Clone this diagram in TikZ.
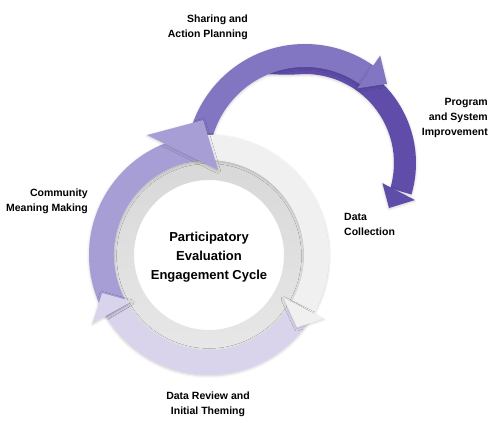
\documentclass[tikz,border=0pt]{standalone}
\usepackage{fontspec}
\setmainfont{Liberation Sans}
\usepackage{tikz}
\usetikzlibrary{shadows.blur}
\definecolor{darkpurple}{HTML}{5F4DA9}
\definecolor{midpurple}{HTML}{8275C2}
\definecolor{lightpurple}{HTML}{A79ED6}
\definecolor{lavender}{HTML}{D9D4EC}
\definecolor{paleband}{HTML}{F0F0F0}
\definecolor{ringtop}{HTML}{D8D8D8}
\definecolor{ringbot}{HTML}{E7E7E7}
\tikzset{
  softshadow/.style={blur shadow={shadow blur steps=6, shadow xshift=0pt, shadow yshift=-1pt, shadow opacity=18, shadow blur radius=2.5pt}},
  steplabel/.style={font=\bfseries\fontsize{10.5}{15}\selectfont, inner sep=0pt},
  centerlabel/.style={font=\bfseries\fontsize{13}{19}\selectfont, align=center, inner sep=0pt}
}

\begin{document}
\begin{tikzpicture}[x=1pt,y=1pt]
\useasboundingbox (0,0) rectangle (500,429);
% upper arrow
\begin{scope}[shift={(305,266)}]
\fill[darkpurple, softshadow] (112:111pt) arc[start angle=112, end angle=-16.5, radius=111pt] -- (-16.5:89pt) arc[start angle=-16.5, end angle=90, radius=89pt]
  .. controls (102:90pt) .. (112:96pt) -- cycle;
\fill[darkpurple, softshadow] (-14.6:80pt) -- (-18.6:116pt) -- (-28.2:95.3pt) -- cycle;
\fill[midpurple, softshadow] (180:119pt) arc[start angle=180, end angle=55, radius=119pt] -- (55:96pt) arc[start angle=55, end angle=180, radius=96pt] -- cycle;
\fill[midpurple, softshadow] (55:91pt) -- (55:131pt) -- (44:114pt) -- cycle;
\end{scope}
% cycle ring
\begin{scope}[shift={(209,174)}]
\shade[top color=ringtop, bottom color=ringbot, even odd rule] (0,0) circle[radius=95pt] (0,0) circle[radius=75pt];
\fill[paleband, softshadow] (111.5:120pt) arc[start angle=111.5, end angle=-30, radius=120pt] -- (-30:95pt) arc[start angle=-30, end angle=94.5, radius=95pt] -- cycle;
\fill[lavender, softshadow] (-30:120pt) arc[start angle=-30, end angle=-149, radius=120pt] -- (-149:95pt) arc[start angle=-149, end angle=-30, radius=95pt] -- cycle;
\fill[lightpurple, softshadow] (211:120pt) arc[start angle=211, end angle=111.5, radius=120pt] -- (94.5:95pt) arc[start angle=94.5, end angle=211, radius=95pt] -- cycle;
% heads
\fill[paleband, softshadow] (-30:86pt) -- (-29:131pt) -- (-39.5:114pt) -- cycle;
\fill[lavender, softshadow] (211:90pt) -- (210.4:135pt) -- (199.6:113.5pt) -- cycle;
\fill[lightpurple, softshadow] (117.3:135pt) -- (92.5:135pt) -- (83.9:85.5pt) -- cycle;
\end{scope}
% labels
\node[steplabel, align=right, anchor=east] (sharing) at (248,401.5) {Sharing and\\Action Planning};
\node[steplabel, align=right, anchor=east] (program) at (488,311) {Program\\and System\\Improvement};
\node[steplabel, align=left, anchor=west] (collection) at (344,205) {Data\\Collection};
\node[steplabel, align=center] (review) at (208,25) {Data Review and\\Initial Theming};
\node[steplabel, align=right, anchor=east] (meaning) at (88,227.5) {Community\\Meaning Making};
\node[centerlabel] (cycle) at (209,172) {Participatory\\Evaluation\\Engagement Cycle};
\end{tikzpicture}
\end{document}
